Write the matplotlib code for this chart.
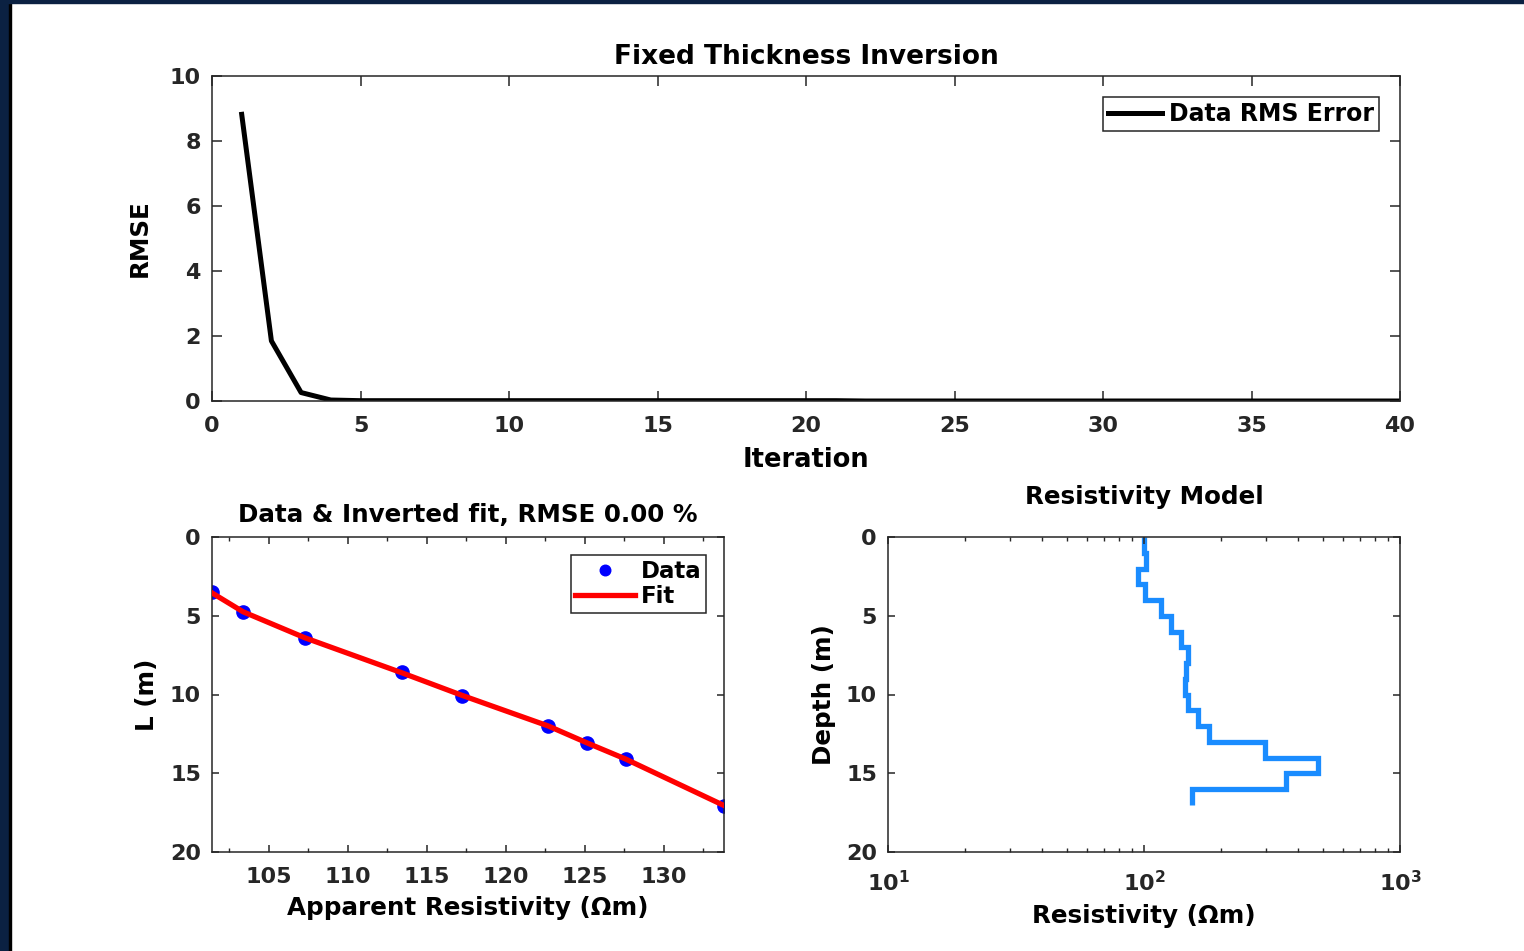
import numpy as np
import matplotlib
matplotlib.use('Agg')
import matplotlib.pyplot as plt
from matplotlib.patches import Rectangle
from matplotlib.ticker import MultipleLocator, LogLocator, NullFormatter

### DATA
iteration = list(range(1, 41))
rmse = [8.82, 1.85, 0.26, 0.03, 0.01, 0.01, 0.01, 0.01, 0.01, 0.01,
        0.01, 0.01, 0.01, 0.01, 0.01, 0.01, 0.01, 0.01, 0.01, 0.01,
        0.01, 0.0, 0.0, 0.0, 0.0, 0.0, 0.0, 0.0, 0.0, 0.0,
        0.0, 0.0, 0.0, 0.0, 0.0, 0.0, 0.0, 0.0, 0.0, 0.0]

app_res = [101.42, 103.39, 107.30, 113.43, 117.23, 122.70, 125.17, 127.60, 133.82]
spacing_L = [3.52, 4.79, 6.42, 8.60, 10.08, 12.03, 13.05, 14.11, 17.08]
fit_res = [101.42, 103.39, 107.30, 113.43, 117.23, 122.70, 125.17, 127.60, 133.82]
fit_L = [3.55, 4.75, 6.40, 8.62, 10.05, 12.00, 13.08, 14.10, 17.05]

layer_top = [0, 1, 2, 3, 4, 5, 6, 7, 8, 9, 10, 11, 12, 13, 14, 15, 16, 17]
layer_res = [100, 102, 95, 101, 116, 128, 139, 149, 146, 145, 149, 162, 180,
             297, 480, 358, 154]

plt.rcParams['font.family'] = ['DejaVu Sans']
plt.rcParams['font.weight'] = 'bold'
plt.rcParams['axes.labelweight'] = 'bold'
plt.rcParams['axes.titleweight'] = 'bold'
plt.rcParams['xtick.direction'] = 'in'
plt.rcParams['ytick.direction'] = 'in'
plt.rcParams['xtick.top'] = True
plt.rcParams['ytick.right'] = True
plt.rcParams['axes.edgecolor'] = '#262626'
plt.rcParams['axes.linewidth'] = 1.1
plt.rcParams['xtick.color'] = '#262626'
plt.rcParams['ytick.color'] = '#262626'
plt.rcParams['xtick.labelcolor'] = '#262626'
plt.rcParams['ytick.labelcolor'] = '#262626'

fig = plt.figure(figsize=(15.24, 9.51), dpi=100)
fig.patches.append(Rectangle((0, 0), 9/1524, 1, transform=fig.transFigure,
                             color='#0b2142', zorder=0))
fig.patches.append(Rectangle((9/1524, 0), 2/1524, 1, transform=fig.transFigure,
                             color='#000000', zorder=0))
fig.patches.append(Rectangle((0, 1-3/951), 1, 3/951, transform=fig.transFigure,
                             color='#0b2142', zorder=0))

tfs = 16
lfs = 17.7

# top: RMSE vs iteration
ax1 = fig.add_axes([212/1524, 1-401/951, 1188/1524, 325/951])
ax1.plot(iteration, rmse, color='k', linewidth=3.6, label='Data RMS Error')
ax1.set_xlim(0, 40)
ax1.set_ylim(0, 10)
ax1.xaxis.set_major_locator(MultipleLocator(5))
ax1.yaxis.set_major_locator(MultipleLocator(2))
ax1.tick_params(axis='x', labelsize=tfs, length=7, width=1.1, pad=11)
ax1.tick_params(axis='y', labelsize=tfs, length=7, width=1.1, pad=8)
ax1.set_xlabel('Iteration', fontsize=18.5, labelpad=8)
ax1.set_ylabel('RMSE', fontsize=lfs, labelpad=13)
ax1.set_title('Fixed Thickness Inversion', fontsize=19, pad=9)
leg = ax1.legend(loc='upper right', fontsize=17, fancybox=False, framealpha=1,
                 edgecolor='#262626', borderaxespad=0.9, handlelength=2.3,
                 handletextpad=0.3, borderpad=0.2)
leg.get_frame().set_linewidth(1.1)

# bottom left: data and fit
ax2 = fig.add_axes([212/1524, 1-852/951, 512/1524, 315/951])
ax2.plot(app_res, spacing_L, 'o', color='#0000ff', markersize=9.5, label='Data',
         zorder=2)
ax2.plot(fit_res, fit_L, '-', color='#ff0000', linewidth=3.8, label='Fit', zorder=3)
ax2.set_xlim(101.42, 133.82)
ax2.set_ylim(20, 0)
ax2.xaxis.set_major_locator(MultipleLocator(5))
ax2.xaxis.set_minor_locator(MultipleLocator(2.5))
ax2.yaxis.set_major_locator(MultipleLocator(5))
ax2.tick_params(axis='x', which='major', labelsize=tfs, length=5, width=1.1, pad=11)
ax2.tick_params(axis='y', which='major', labelsize=tfs, length=5, width=1.1, pad=8)
ax2.tick_params(which='minor', length=3, width=1.0)
ax2.set_xlabel('Apparent Resistivity (\u03a9m)', fontsize=lfs, labelpad=6)
ax2.set_ylabel('L (m)', fontsize=lfs, labelpad=8)
ax2.set_title('Data & Inverted fit, RMSE 0.00 %', fontsize=lfs, pad=11)
leg2 = ax2.legend(loc='upper right', fontsize=16.5, fancybox=False, framealpha=1,
                  edgecolor='#262626', borderaxespad=0.8, handlelength=2.6,
                  handletextpad=0.25, borderpad=0.2, labelspacing=0.1,
                  markerscale=0.8)
leg2.get_frame().set_linewidth(1.1)

# bottom right: resistivity model
ax3 = fig.add_axes([888/1524, 1-852/951, 512/1524, 315/951])
ax3.stairs(layer_res, layer_top, orientation='horizontal', baseline=None,
           color='#1a8cff', linewidth=3.8)
ax3.set_xscale('log')
ax3.set_xlim(10, 1000)
ax3.set_ylim(20, 0)
ax3.yaxis.set_major_locator(MultipleLocator(5))
ax3.xaxis.set_major_locator(LogLocator(base=10, numticks=5))
ax3.xaxis.set_minor_locator(LogLocator(base=10, subs=np.arange(2, 10), numticks=20))
ax3.xaxis.set_minor_formatter(NullFormatter())
ax3.tick_params(axis='x', which='major', labelsize=tfs, length=5, width=1.1, pad=13)
ax3.tick_params(axis='y', which='major', labelsize=tfs, length=5, width=1.1, pad=8)
ax3.tick_params(which='minor', length=3, width=1.0)
ax3.set_xlabel('Resistivity (\u03a9m)', fontsize=lfs, labelpad=6)
ax3.set_ylabel('Depth (m)', fontsize=lfs, labelpad=7)
ax3.set_title('Resistivity Model', fontsize=lfs, pad=24)

plt.savefig('out.png', dpi=100)
